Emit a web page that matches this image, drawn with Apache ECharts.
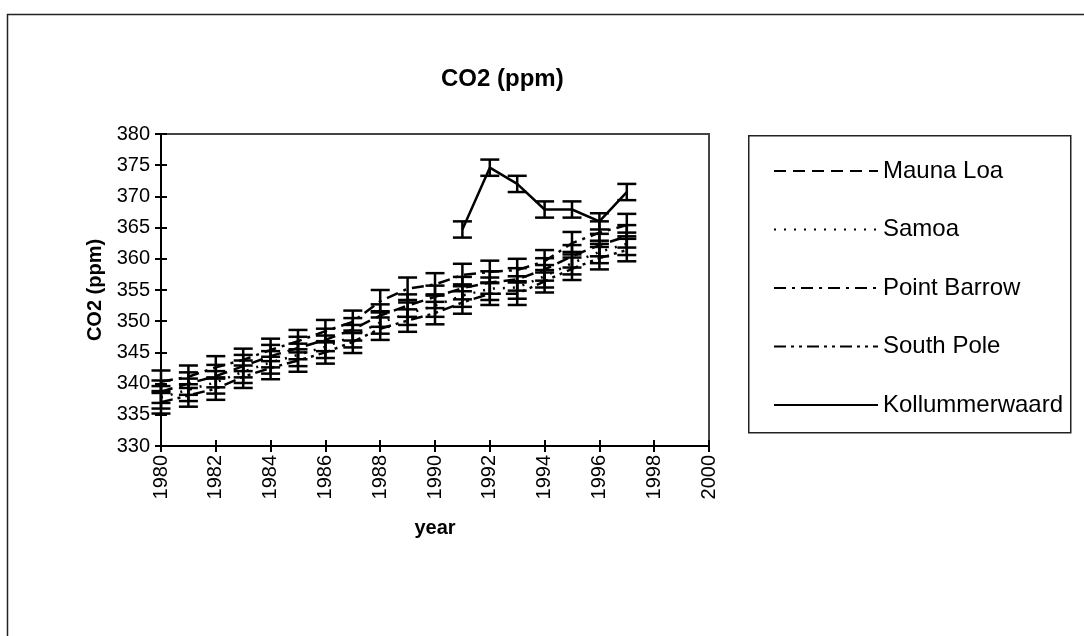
<!DOCTYPE html>
<html>
<head>
<meta charset="utf-8">
<script src="https://cdn.jsdelivr.net/npm/echarts@6/dist/echarts.min.js"></script>
<style>
html,body{margin:0;padding:0;background:#fff;}
#c{width:1084px;height:636px;}
</style>
</head>
<body>
<div id="c"></div>
<script>
const years = [1980,1981,1982,1983,1984,1985,1986,1987,1988,1989,1990,1991,1992,1993,1994,1995,1996,1997];
const maunaLoa     = [338.7,340.0,341.2,342.8,344.4,345.7,347.0,348.7,350.9,352.5,353.9,355.3,356.2,356.7,358.3,360.4,362.2,363.6];
const samoa        = [337.8,339.0,340.2,341.9,343.4,344.6,345.9,347.6,349.8,351.2,352.5,354.1,355.2,355.4,357.2,359.3,361.1,362.4];
const pointBarrow  = [340.3,341.1,342.6,343.8,345.4,346.8,348.4,349.9,353.2,355.2,355.9,357.4,357.9,358.2,359.6,362.5,364.2,365.4];
const southPole    = [337.0,338.1,339.2,341.1,342.5,343.7,345.0,346.7,348.8,350.1,351.3,353.0,354.4,354.4,356.4,358.4,360.1,361.4];
const kollYears    = [1991,1992,1993,1994,1995,1996,1997];
const kollummerwaard = [364.7,374.6,372.0,367.9,367.9,366.0,370.7];
const stationError = 1.8;
const kollError = 1.3;

const FONT = "'Liberation Sans', Arial, sans-serif";
const chart = echarts.init(document.getElementById('c'), null, {renderer:'canvas'});

function errRender(params, api){
  const x = api.value(0), v = api.value(1), e = api.value(2);
  const top = api.coord([x, v+e]);
  const bot = api.coord([x, v-e]);
  const hw = 9.5;
  const st = {stroke:'#000', lineWidth:2.5};
  return {type:'group', children:[
    {type:'line', shape:{x1:top[0],y1:top[1],x2:bot[0],y2:bot[1]}, style:st},
    {type:'line', shape:{x1:top[0]-hw,y1:top[1],x2:top[0]+hw,y2:top[1]}, style:st},
    {type:'line', shape:{x1:bot[0]-hw,y1:bot[1],x2:bot[0]+hw,y2:bot[1]}, style:st}
  ]};
}

const styles = {
  'Mauna Loa': [12,7],
  'Samoa': [2,8],
  'Point Barrow': [12,6,3,6],
  'South Pole': [12,5,3,5,3,5],
  'Kollummerwaard': 'solid'
};

const lineSeries = [
  ['Mauna Loa', years, maunaLoa, stationError],
  ['Samoa', years, samoa, stationError],
  ['Point Barrow', years, pointBarrow, stationError],
  ['South Pole', years, southPole, stationError],
  ['Kollummerwaard', kollYears, kollummerwaard, kollError]
];

const series = [];
lineSeries.forEach(([name, xs, vs, err])=>{
  series.push({
    name, type:'line', data: xs.map((x,i)=>[x, vs[i]]),
    showSymbol:false, symbol:'none', legendIcon:'path://M0,0L1,0', animation:false,
    lineStyle:{color:'#000', width:2.5, type: styles[name]},
    itemStyle:{color:'#000'}, z:3
  });
  series.push({
    name: name + ' err', type:'custom', data: xs.map((x,i)=>[x, vs[i], err]),
    renderItem: errRender, animation:false, z:4, silent:true
  });
});

const option = {
  animation:false,
  backgroundColor:'#fff',
  textStyle:{fontFamily:FONT, color:'#000'},
  title:{
    text:'CO2 (ppm)', left:436, top:62,
    textStyle:{fontFamily:FONT, fontWeight:'bold', fontSize:24, color:'#000'}
  },
  grid:{left:161, right:375, top:134, bottom:190, show:true, borderColor:'#444', borderWidth:2, backgroundColor:'#fff'},
  legend:{
    orient:'vertical', left:768, top:152, itemWidth:104, itemHeight:14, itemGap:30.5,
    data:['Mauna Loa','Samoa','Point Barrow','South Pole','Kollummerwaard'],
    textStyle:{fontFamily:FONT, fontSize:24, color:'#000', lineHeight:28},
    lineStyle:{inherit:true},
    itemStyle:{color:'rgba(0,0,0,0)', borderWidth:0},
    selectedMode:false
  },
  xAxis:[{
    type:'value', min:1980, max:2000, interval:2,
    axisLine:{show:true, lineStyle:{color:'#000', width:2}},
    axisTick:{show:true, length:6, lineStyle:{color:'#000', width:2}},
    splitLine:{show:false},
    axisLabel:{rotate:90, fontSize:20, fontFamily:FONT, color:'#000', margin:9, formatter:v=>String(v)},
    name:'year', nameLocation:'middle', nameGap:72,
    nameTextStyle:{fontFamily:FONT, fontWeight:'bold', fontSize:20, color:'#000'}
  },{
    type:'value', min:1980, max:2000, interval:2, position:'bottom',
    axisLine:{show:false}, axisTick:{show:true, inside:true, length:6, lineStyle:{color:'#000', width:2}},
    axisLabel:{show:false}, splitLine:{show:false}
  }],
  yAxis:[{
    type:'value', min:330, max:380, interval:5,
    axisLine:{show:true, lineStyle:{color:'#000', width:2}},
    axisTick:{show:true, length:6, lineStyle:{color:'#000', width:2}},
    splitLine:{show:false},
    axisLabel:{fontSize:20, fontFamily:FONT, color:'#000', margin:11},
    name:'CO2 (ppm)', nameLocation:'middle', nameGap:46, nameRotate:90,
    nameTextStyle:{fontFamily:FONT, fontWeight:'bold', fontSize:20, color:'#000'}
  },{
    type:'value', min:330, max:380, interval:5, position:'left',
    axisLine:{show:false}, axisTick:{show:true, inside:true, length:6, lineStyle:{color:'#000', width:2}},
    axisLabel:{show:false}, splitLine:{show:false}
  }],
  graphic:[
    {type:'rect', left:5, top:12, shape:{width:1100, height:640}, style:{fill:'none', stroke:'#222', lineWidth:1.5}, silent:true, z:-1},
    {type:'rect', left:748, top:135, shape:{width:322, height:297}, style:{fill:'#fff', stroke:'#222', lineWidth:1.5}, silent:true, z:-1}
  ],
  series: series
};
chart.setOption(option);
</script>
</body>
</html>
